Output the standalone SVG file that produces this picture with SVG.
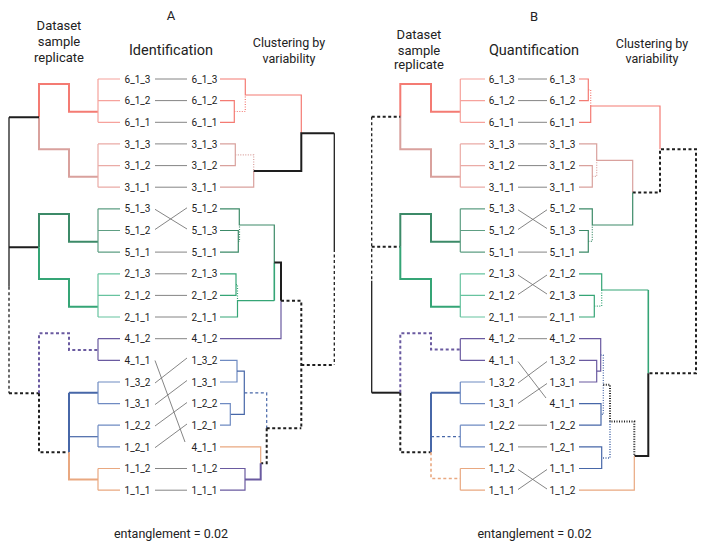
<svg xmlns="http://www.w3.org/2000/svg" width="707" height="545" viewBox="0 0 707 545">
<style>
text{font-family:Roboto,"Liberation Sans",Arial,sans-serif;fill:#222;text-anchor:middle}
.lb{font-size:10px}
.hd{font-size:13px}
.ti{font-size:14.5px}
.cl{font-size:12.5px}
path{fill:none;stroke-linecap:butt}
.k1{stroke:#1e1e1e;stroke-width:1.3}
.k2{stroke:#1e1e1e;stroke-width:2}
.w1{stroke-width:1.2}
.w2{stroke-width:2}
.dash{stroke-dasharray:3 2.5}
.dot{stroke-dasharray:1 1.5}
.cn{stroke:#777;stroke-width:0.9}
.r6{stroke:#f47b73}.r6l{stroke:#f6a29c}
.r3{stroke:#d9a19d}.r3l{stroke:#eaaba6}
.g5{stroke:#3c8a68}.g5l{stroke:#5e9e83}
.g2{stroke:#35a576}.g2l{stroke:#67c39f}
.p4{stroke:#6a5aa0}
.b1{stroke:#4767a8}.b1l{stroke:#6f8bc2}
.o1{stroke:#e9a880}
</style>

<g id="headers">
<text class="hd" x="171" y="20">A</text>
<text class="hd" x="59" y="30">Dataset</text>
<text class="hd" x="59" y="46">sample</text>
<text class="hd" x="59" y="62">replicate</text>
<text class="ti" x="171" y="55">Identification</text>
<text class="cl" x="289" y="47">Clustering by</text>
<text class="cl" x="289" y="62.5">variability</text>
<text class="cl" x="171" y="538">entanglement = 0.02</text>
<text class="hd" x="534" y="20.5">B</text>
<text class="hd" x="419" y="39">Dataset</text>
<text class="hd" x="419" y="55">sample</text>
<text class="hd" x="419" y="69">replicate</text>
<text class="ti" x="534" y="55">Quantification</text>
<text class="cl" x="652" y="48">Clustering by</text>
<text class="cl" x="652" y="63">variability</text>
<text class="cl" x="534.5" y="538">entanglement = 0.02</text>
</g>

<g id="A-tree-left">
<path class="r6 w2" d="M39,117.3 V84 H69 V111.7 H98"/>
<path class="r6l w1" d="M98,79 V122.3 M98,79 H120 M98,100.6 H120 M98,122.3 H120"/>
<path class="r3 w2" d="M39,117.3 V149.3 H69 V176.7 H98"/>
<path class="r3l w1" d="M98,143.9 V187.2 M98,143.9 H120 M98,165.6 H120 M98,187.2 H120"/>
<path class="k2" d="M9,117.3 H39 M9,247.3 H39"/>
<path class="k1" d="M9,117.3 V286.7"/>
<path class="k1 dash" d="M9,286.7 V393.3"/>
<path class="k2 dash" d="M9,393.3 H39"/>
<path class="g5 w2" d="M39,247.3 V214 H69 V241.7 H98"/>
<path class="g5l w1" d="M98,208.8 V252.1 M98,208.8 H120 M98,230.5 H120 M98,252.1 H120"/>
<path class="g2 w2" d="M39,247.3 V279 H69 V306.7 H98"/>
<path class="g2l w1" d="M98,273.8 V317 M98,273.8 H120 M98,295.4 H120 M98,317 H120"/>
<path class="p4 w2 dash" d="M39,393.3 V333.3 H69 V350 H98"/>
<path class="p4 w1" d="M98,338.7 V360.3 M98,338.7 H120 M98,360.3 H120"/>
<path class="k2 dash" d="M39,393.3 V452.3 H69"/>
<path class="b1 w2" d="M69,392.7 V452.3 M69,392.7 H98"/>
<path class="b1 w1" d="M69,436.7 H98"/>
<path class="b1l w1" d="M98,382 V403.6 M98,382 H120 M98,403.6 H120 M98,425.2 V446.9 M98,425.2 H120 M98,446.9 H120"/>
<path class="o1 w2" d="M69,452.3 V479.5 H98"/>
<path class="o1 w1" d="M98,468.5 V490.2 M98,468.5 H120 M98,490.2 H120"/>
</g>

<g id="A-tree-right">
<path class="r6 w1" d="M220,79 H245.3 V95 H301.3 V133.3"/>
<path class="r6 w1" d="M220,100.6 H234.3 V122.3 H220"/>
<path class="r6 w1 dot" d="M234.3,111.5 H245.3 V95"/>
<path class="r3 w1" d="M220,143.9 H235.3 V165.6 H220"/>
<path class="r3 w1 dot" d="M235.3,154.8 H253.7 V171"/>
<path class="r3 w1" d="M220,187.2 H253.7 V171"/>
<path class="k2" d="M253.7,171 H301.3 V133.3 H334.3"/>
<path class="k1" d="M334.3,133.3 V249"/>
<path class="k1 dash" d="M334.3,249 V365"/>
<path class="k2 dash" d="M301.3,365 H334.3"/>
<path class="g5 w1" d="M220,208.8 H239.3 V225 H274.3 V262.5"/>
<path class="g5 w1" d="M220,230.5 H238.3 V252.1 H220"/>
<path class="g5 w1 dot" d="M238.3,241.3 H239.5 V225"/>
<path class="g2 w1" d="M220,273.8 H236 V295.4 H220"/>
<path class="g2 w1 dot" d="M236,284.6 H237.5 V300.7"/>
<path class="g2 w1" d="M220,317 H237.5 V300.7 H274.3"/>
<path class="g2" stroke-width="1.6" d="M274.3,300.7 V262.5"/>
<path class="k2" d="M274.3,262.5 H281 V300.7"/>
<path class="p4 w1" d="M281,300.7 V338.7 H220"/>
<path class="k2 dash" d="M281,300.7 H301.3 V428.3"/>
<path class="b1l w1" d="M220,360.3 H237 V382 H220"/>
<path class="b1 w1" d="M237,371.2 H244.3 V414.4 H230.3"/>
<path class="b1l w1" d="M220,403.6 H230.3 V425.2 H220"/>
<path class="b1 w1 dash" d="M244.3,392.8 H266.7 V428.3"/>
<path class="k2 dash" d="M266.7,428.3 H301.3 M266.7,428.3 V463.3 H260.7"/>
<path class="o1 w1" d="M220,446.9 H260.7 V463.3"/>
<path class="p4 w2" d="M260.7,463.3 V479.4 H245"/>
<path class="p4 w1" d="M220,468.5 H245 V490.2 H220"/>
</g>

<g id="B-tree-left">
<path class="r6 w2" d="M400.3,116.7 V84 H431 V111.7 H460.3"/>
<path class="r6l w1" d="M460.3,79 V122.3 M460.3,79 H485 M460.3,100.6 H485 M460.3,122.3 H485"/>
<path class="r3 w2" d="M400.3,116.7 V149.3 H431 V176.7 H460.3"/>
<path class="r3l w1" d="M460.3,143.9 V187.2 M460.3,143.9 H485 M460.3,165.6 H485 M460.3,187.2 H485"/>
<path class="k2 dash" d="M371.7,116.7 H400.3 M371.7,246.7 H400.3"/>
<path class="k1 dash" d="M371.7,116.7 V280.7"/>
<path class="k1" d="M371.7,280.7 V392.7"/>
<path class="k2" d="M371.7,392.7 H400.3"/>
<path class="g5 w2" d="M400.3,246.7 V214 H431 V241.7 H460.3"/>
<path class="g5l w1" d="M460.3,208.8 V252.1 M460.3,208.8 H485 M460.3,230.5 H485 M460.3,252.1 H485"/>
<path class="g2 w2" d="M400.3,246.7 V279 H431 V306.7 H460.3"/>
<path class="g2l w1" d="M460.3,273.8 V317 M460.3,273.8 H485 M460.3,295.4 H485 M460.3,317 H485"/>
<path class="p4 w2 dash" d="M400.3,392.7 V333.3 H431 V349.5 H460.3"/>
<path class="p4 w1" d="M460.3,338.7 V360.3 M460.3,338.7 H485 M460.3,360.3 H485"/>
<path class="k2 dash" d="M400.3,392.7 V452.3 H431"/>
<path class="b1 w2" d="M431,392.7 V452.3 M431,392.7 H460.3"/>
<path class="b1 w1 dash" stroke-width="1.6" d="M431,436.7 H460.3"/>
<path class="b1l w1" d="M460.3,382 V403.6 M460.3,382 H485 M460.3,403.6 H485 M460.3,425.2 V446.9 M460.3,425.2 H485 M460.3,446.9 H485"/>
<path class="o1 dash" stroke-width="1.6" d="M431,452.3 V478.5 H460.3"/>
<path class="o1 w1" d="M460.3,468.5 V490.2 M460.3,468.5 H485 M460.3,490.2 H485"/>
</g>

<g id="B-tree-right">
<path class="r6 w1" d="M579,79 H588.3 V100.6 H579"/>
<path class="r6 w1 dot" d="M588.3,89.8 H590.7 V106"/>
<path class="r6 w1" d="M579,122.3 H590.7 V106 H660 V149.3"/>
<path class="r3 w1" d="M579,143.9 H596.7 V160.3 H632.7 V192.5"/>
<path class="r3 w1" d="M579,165.6 H592.3 V187.2 H579"/>
<path class="r3 w1 dot" d="M592.3,176.4 H596.7 V160.3"/>
<path class="k2 dash" d="M632.7,192.5 H660 V149.3 H696 V373.3 H648.3"/>
<path class="g5 w1" d="M579,208.8 H592.3 V225 H632.7 V192.5"/>
<path class="g5 w1" d="M579,230.5 H588.3 V252.1 H579"/>
<path class="g5 w1 dot" d="M588.3,241.3 H592.3 V225"/>
<path class="g2 w1" d="M579,273.8 H601.7 V290 H648.3"/>
<path class="g2" stroke-width="1.6" d="M648.3,290 V373.3"/>
<path class="g2 w1" d="M579,295.4 H594.3 V317 H579"/>
<path class="g2 w1 dot" d="M594.3,306.2 H601.7 V290"/>
<path class="k2" d="M648.3,373.3 V456 H634.3"/>
<path class="p4 w1" d="M579,338.7 H600.7 V371.2 H596.7"/>
<path class="p4 w1" d="M579,360.3 H596.7 V382 H579"/>
<path class="b1 w1 dot" stroke-width="1.5" d="M600.7,355 H603.3 V414.4 H601"/>
<path class="b1 w1" d="M579,403.6 H601 V425.2 H579"/>
<path class="k2 dot" stroke-dasharray="2 2" d="M603.3,384.7 H610 V421.5 H634.3 V456"/>
<path class="b1 dot" stroke-width="1.5" d="M610,421.5 V458 H601.7"/>
<path class="b1 w1" d="M579,446.9 H601.7 V468.5 H579"/>
<path class="o1 w1" d="M634.3,456 V490.2 H579"/>
</g>

<g id="connectors">
<path class="cn" d="M155,79 H187 M155,100.6 H187 M155,122.3 H187 M155,143.9 H187 M155,165.6 H187 M155,187.2 H187 M155,209.3 L187,229 M155,229.5 L187,207.8 M155,252.1 H187 M155,273.8 H187 M155,295.4 H187 M155,317 H187 M155,338.7 H187 M155,360.5 L185,442 M155,383 L187,358 M155,404.6 L187,380.5 M155,426 L187,402.5 M155,447.7 L187,424 M155,468.5 H187 M155,490.2 H187"/>
<path class="cn" d="M518,79 H547 M518,100.6 H547 M518,122.3 H547 M518,143.9 H547 M518,165.6 H547 M518,187.2 H547 M518,209.8 L547,228.5 M518,229.5 L547,209.8 M518,252.1 H547 M518,275 L547,294 M518,294.5 L547,275 M518,317 H547 M518,338.7 H547 M518,361.5 L546,398 M518,383 L547,361.5 M518,403.5 L547,383.5 M518,425.2 H547 M518,446.9 H547 M518,469.5 L547,489 M518,489.5 L547,469.5"/>
</g>

<g id="A-labels-left" class="lb">
<text class="lb" x="137.5" y="82.6">6_1_3</text>
<text class="lb" x="137.5" y="104.2">6_1_2</text>
<text class="lb" x="137.5" y="125.9">6_1_1</text>
<text class="lb" x="137.5" y="147.5">3_1_3</text>
<text class="lb" x="137.5" y="169.2">3_1_2</text>
<text class="lb" x="137.5" y="190.8">3_1_1</text>
<text class="lb" x="137.5" y="212.4">5_1_3</text>
<text class="lb" x="137.5" y="234.1">5_1_2</text>
<text class="lb" x="137.5" y="255.7">5_1_1</text>
<text class="lb" x="137.5" y="277.4">2_1_3</text>
<text class="lb" x="137.5" y="299">2_1_2</text>
<text class="lb" x="137.5" y="320.6">2_1_1</text>
<text class="lb" x="137.5" y="342.3">4_1_2</text>
<text class="lb" x="137.5" y="363.9">4_1_1</text>
<text class="lb" x="137.5" y="385.6">1_3_2</text>
<text class="lb" x="137.5" y="407.2">1_3_1</text>
<text class="lb" x="137.5" y="428.8">1_2_2</text>
<text class="lb" x="137.5" y="450.5">1_2_1</text>
<text class="lb" x="137.5" y="472.1">1_1_2</text>
<text class="lb" x="137.5" y="493.8">1_1_1</text>
</g>

<g id="A-labels-right">
<text class="lb" x="204.5" y="82.6">6_1_3</text>
<text class="lb" x="204.5" y="104.2">6_1_2</text>
<text class="lb" x="204.5" y="125.9">6_1_1</text>
<text class="lb" x="204.5" y="147.5">3_1_3</text>
<text class="lb" x="204.5" y="169.2">3_1_2</text>
<text class="lb" x="204.5" y="190.8">3_1_1</text>
<text class="lb" x="204.5" y="212.4">5_1_2</text>
<text class="lb" x="204.5" y="234.1">5_1_3</text>
<text class="lb" x="204.5" y="255.7">5_1_1</text>
<text class="lb" x="204.5" y="277.4">2_1_3</text>
<text class="lb" x="204.5" y="299">2_1_2</text>
<text class="lb" x="204.5" y="320.6">2_1_1</text>
<text class="lb" x="204.5" y="342.3">4_1_2</text>
<text class="lb" x="204.5" y="363.9">1_3_2</text>
<text class="lb" x="204.5" y="385.6">1_3_1</text>
<text class="lb" x="204.5" y="407.2">1_2_2</text>
<text class="lb" x="204.5" y="428.8">1_2_1</text>
<text class="lb" x="204.5" y="450.5">4_1_1</text>
<text class="lb" x="204.5" y="472.1">1_1_2</text>
<text class="lb" x="204.5" y="493.8">1_1_1</text>
</g>

<g id="B-labels-left">
<text class="lb" x="501.7" y="82.6">6_1_3</text>
<text class="lb" x="501.7" y="104.2">6_1_2</text>
<text class="lb" x="501.7" y="125.9">6_1_1</text>
<text class="lb" x="501.7" y="147.5">3_1_3</text>
<text class="lb" x="501.7" y="169.2">3_1_2</text>
<text class="lb" x="501.7" y="190.8">3_1_1</text>
<text class="lb" x="501.7" y="212.4">5_1_3</text>
<text class="lb" x="501.7" y="234.1">5_1_2</text>
<text class="lb" x="501.7" y="255.7">5_1_1</text>
<text class="lb" x="501.7" y="277.4">2_1_3</text>
<text class="lb" x="501.7" y="299">2_1_2</text>
<text class="lb" x="501.7" y="320.6">2_1_1</text>
<text class="lb" x="501.7" y="342.3">4_1_2</text>
<text class="lb" x="501.7" y="363.9">4_1_1</text>
<text class="lb" x="501.7" y="385.6">1_3_2</text>
<text class="lb" x="501.7" y="407.2">1_3_1</text>
<text class="lb" x="501.7" y="428.8">1_2_2</text>
<text class="lb" x="501.7" y="450.5">1_2_1</text>
<text class="lb" x="501.7" y="472.1">1_1_2</text>
<text class="lb" x="501.7" y="493.8">1_1_1</text>
</g>

<g id="B-labels-right">
<text class="lb" x="562.5" y="82.6">6_1_3</text>
<text class="lb" x="562.5" y="104.2">6_1_2</text>
<text class="lb" x="562.5" y="125.9">6_1_1</text>
<text class="lb" x="562.5" y="147.5">3_1_3</text>
<text class="lb" x="562.5" y="169.2">3_1_2</text>
<text class="lb" x="562.5" y="190.8">3_1_1</text>
<text class="lb" x="562.5" y="212.4">5_1_2</text>
<text class="lb" x="562.5" y="234.1">5_1_3</text>
<text class="lb" x="562.5" y="255.7">5_1_1</text>
<text class="lb" x="562.5" y="277.4">2_1_2</text>
<text class="lb" x="562.5" y="299">2_1_3</text>
<text class="lb" x="562.5" y="320.6">2_1_1</text>
<text class="lb" x="562.5" y="342.3">4_1_2</text>
<text class="lb" x="562.5" y="363.9">1_3_2</text>
<text class="lb" x="562.5" y="385.6">1_3_1</text>
<text class="lb" x="562.5" y="407.2">4_1_1</text>
<text class="lb" x="562.5" y="428.8">1_2_2</text>
<text class="lb" x="562.5" y="450.5">1_2_1</text>
<text class="lb" x="562.5" y="472.1">1_1_1</text>
<text class="lb" x="562.5" y="493.8">1_1_2</text>
</g>
</svg>
